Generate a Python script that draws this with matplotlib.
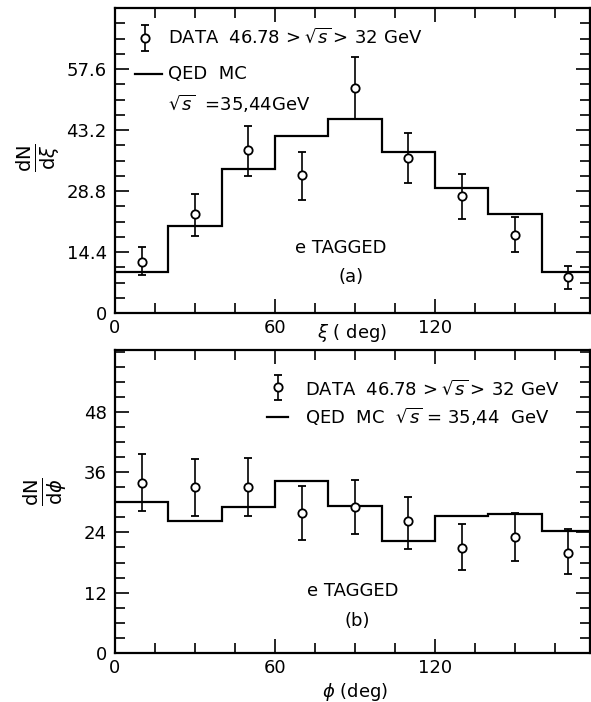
import numpy as np
import matplotlib
matplotlib.use("Agg")
import matplotlib.pyplot as plt
from matplotlib.ticker import MultipleLocator, FixedLocator

plt.rcParams['font.family'] = ['DejaVu Sans']
plt.rcParams['mathtext.fontset'] = 'dejavusans'

# Bin edges (deg) shared by both distributions
bin_edges = [0, 20, 40, 60, 80, 100, 120, 140, 160, 180]
bin_centers = [10, 30, 50, 70, 90, 110, 130, 150, 170]

# (a) xi distribution
xi_mc = [9.7, 20.5, 33.9, 41.8, 45.9, 38.0, 29.4, 23.3, 9.7]
xi_data = [12.1, 23.4, 38.4, 32.5, 53.2, 36.5, 27.6, 18.4, 8.4]
xi_err_hi = [15.6, 28.2, 44.2, 37.9, 60.4, 42.4, 32.8, 22.6, 11.1]
xi_err_lo = [9.0, 18.2, 32.4, 26.7, 45.9, 30.7, 22.3, 14.5, 5.6]

# (b) phi distribution
phi_mc = [30.0, 26.2, 29.1, 34.3, 29.3, 22.3, 27.2, 27.7, 24.3]
phi_data = [33.9, 33.0, 33.1, 27.8, 29.0, 26.2, 20.9, 23.1, 20.0]
phi_err_hi = [39.7, 38.7, 38.8, 33.3, 34.5, 31.1, 25.6, 27.8, 24.7]
phi_err_lo = [28.2, 27.3, 27.3, 22.5, 23.7, 20.7, 16.6, 18.3, 15.8]

xi_yticks = [0, 14.4, 28.8, 43.2, 57.6]
xi_yticklabels = ["0", "14.4", "28.8", "43.2", "57.6"]
phi_yticks = [0, 12, 24, 36, 48]
phi_yticklabels = ["0", "12", "24", "36", "48"]
xticks = [0, 60, 120]
xticklabels = ["0", "60", "120"]

W, H = 591, 702
fig = plt.figure(figsize=(W / 100, H / 100), dpi=100)

def px_axes(l, t, r, b):
    return fig.add_axes([l / W, 1 - b / H, (r - l) / W, (b - t) / H])

ax1 = px_axes(115, 8, 590, 313)
ax2 = px_axes(115, 350, 590, 653)

FS = 13
LW = 1.6

def style(ax, ymax, yticks, ylabels, yminor):
    ax.set_xlim(0, 178.1)
    ax.set_ylim(0, ymax)
    for s in ax.spines.values():
        s.set_linewidth(LW)
    ax.xaxis.set_major_locator(FixedLocator(xticks))
    ax.set_xticklabels(xticklabels)
    ax.xaxis.set_minor_locator(MultipleLocator(15))
    ax.yaxis.set_major_locator(FixedLocator(yticks))
    ax.set_yticklabels(ylabels)
    ax.yaxis.set_minor_locator(MultipleLocator(yminor))
    ax.tick_params(which='both', direction='in', top=True, right=True,
                   width=1.2, labelsize=FS)
    ax.tick_params(which='major', length=10)
    ax.tick_params(which='minor', length=7)
    ax.tick_params(axis='x', which='major', pad=4)
    ax.tick_params(axis='y', which='major', pad=6)

def draw(ax, mc, data, hi, lo):
    ax.stairs(mc, bin_edges, color='black', linewidth=LW, baseline=None)
    data = np.array(data)
    yerr = [data - np.array(lo), np.array(hi) - data]
    ax.errorbar(bin_centers, data, yerr=yerr, fmt='o', mfc='white', mec='black',
                ms=6, mew=1.3, ecolor='black', elinewidth=1.2, capsize=3,
                capthick=1.2, zorder=3)

def legend_key(ax, x, y, ylo, yhi, lx0, lx1, ly):
    ax.errorbar([x], [y], yerr=[[y - ylo], [yhi - y]], fmt='o', mfc='white',
                mec='black', ms=6, mew=1.3, ecolor='black', elinewidth=1.2,
                capsize=3, capthick=1.2, transform=ax.transAxes, clip_on=False)
    ax.plot([lx0, lx1], [ly, ly], color='black', lw=LW, transform=ax.transAxes)

# ---- panel (a)
draw(ax1, xi_mc, xi_data, xi_err_hi, xi_err_lo)
style(ax1, 72, xi_yticks, xi_yticklabels, 3.6)
legend_key(ax1, 0.063, 0.903, 0.859, 0.944, 0.042, 0.099, 0.784)
ax1.text(0.112, 0.903, r"DATA  46.78$\,>\sqrt{s}>\,$32 GeV", transform=ax1.transAxes,
         fontsize=FS, va='center', ha='left')
ax1.text(0.112, 0.784, "QED  MC", transform=ax1.transAxes,
         fontsize=FS, va='center', ha='left')
ax1.text(0.112, 0.685, r"$\sqrt{s}$  =35,44GeV", transform=ax1.transAxes,
         fontsize=FS, va='center', ha='left')
ax1.text(0.476, 0.213, "e TAGGED", transform=ax1.transAxes,
         fontsize=FS, va='center', ha='center')
ax1.text(0.498, 0.119, "(a)", transform=ax1.transAxes,
         fontsize=FS, va='center', ha='center')
ax1.text(0.499, -0.066, r"$\xi$ ( deg)", transform=ax1.transAxes,
         fontsize=FS, va='center', ha='center')
fig.text(38 / W, 1 - 158 / H, r"$\frac{\mathrm{dN}}{\mathrm{d}\xi}$", rotation=90,
         fontsize=20, va='center', ha='center')

# ---- panel (b)
draw(ax2, phi_mc, phi_data, phi_err_hi, phi_err_lo)
style(ax2, 60.3, phi_yticks, phi_yticklabels, 3)
legend_key(ax2, 0.343, 0.879, 0.835, 0.918, 0.319, 0.365, 0.778)
ax2.text(0.40, 0.870, r"DATA  46.78$\,>\sqrt{s}>\,$32 GeV", transform=ax2.transAxes,
         fontsize=FS, va='center', ha='left')
ax2.text(0.40, 0.778, r"QED  MC  $\sqrt{s}$ = 35,44  GeV", transform=ax2.transAxes,
         fontsize=FS, va='center', ha='left')
ax2.text(0.501, 0.203, "e TAGGED", transform=ax2.transAxes,
         fontsize=FS, va='center', ha='center')
ax2.text(0.509, 0.104, "(b)", transform=ax2.transAxes,
         fontsize=FS, va='center', ha='center')
ax2.text(0.506, -0.128, r"$\phi$ (deg)", transform=ax2.transAxes,
         fontsize=FS, va='center', ha='center')
fig.text(45 / W, 1 - 492 / H, r"$\frac{\mathrm{dN}}{\mathrm{d}\phi}$", rotation=90,
         fontsize=20, va='center', ha='center')

fig.savefig("out.png", dpi=100)
